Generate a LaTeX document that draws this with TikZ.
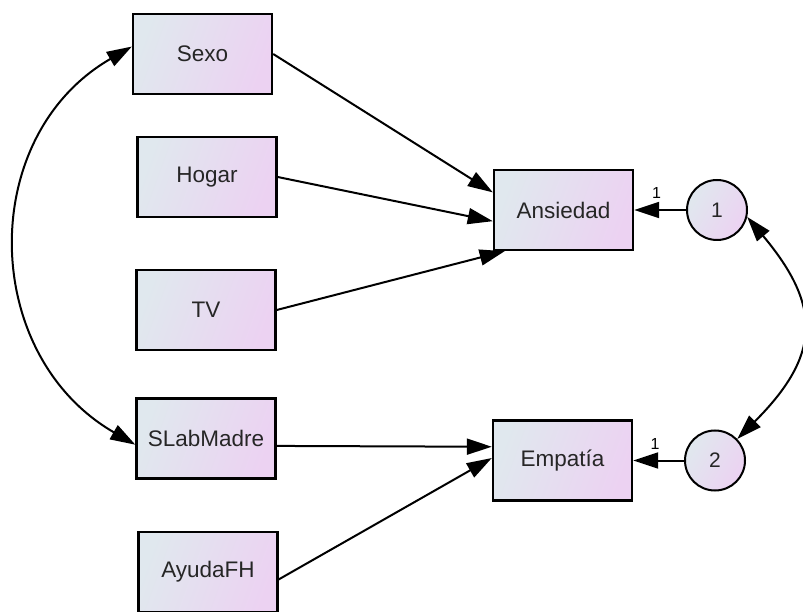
\documentclass[tikz,border=0pt]{standalone}
\usepackage{fontspec}
\setmainfont{Liberation Sans}
\usetikzlibrary{arrows.meta,positioning}
\definecolor{varleft}{RGB}{224,232,238}
\definecolor{varright}{RGB}{236,210,242}
\tikzstyle{every picture}+=[>={Triangle[length=25pt,width=16pt]}]
\tikzstyle{observed}=[rectangle,draw=black,line width=2.4pt,minimum width=139pt,
  minimum height=80pt,inner sep=0pt,left color=varleft,right color=varright,
  shading angle=70,text=black!85,font=\fontsize{22.5}{27}\selectfont]
\tikzstyle{residual}=[circle,draw=black,line width=2pt,minimum size=60pt,inner sep=0pt,
  left color=varleft,right color=varright,shading angle=60,text=black!85,
  font=\fontsize{21}{24}\selectfont]
\tikzstyle{weight}=[above=10pt,inner sep=0pt,text=black,font=\fontsize{16}{16}\selectfont]

\begin{document}
\begin{tikzpicture}[x=1pt,y=1pt,line width=2pt]
\useasboundingbox (0,0) rectangle (803,611);
% exogenous variables
\node[observed] (sexo) at (202.5,557) {Sexo};
\node[observed] (hogar) at (207,434) {Hogar};
\node[observed] (tv) at (206,301) {TV};
\node[observed] (slabmadre) at (206,172.5) {SLabMadre};
\node[observed] (ayudafh) at (208,39) {AyudaFH};
% endogenous variables and their errors
\node[observed] (ansiedad) at (563.5,401) {Ansiedad};
\node[observed] (empatia) at (562.5,150.5) {Empat\'ia};
\node[residual] (e1) at (717,401) {1};
\node[residual] (e2) at (715,150.5) {2};
\path[->] (sexo.east) edge (ansiedad.166)
          (hogar.east) edge (ansiedad.189)
          (tv.east) edge (ansiedad.215)
          (slabmadre.-6) edge (empatia.169)
          (ayudafh.-6.5) edge (empatia.178)
          (e1) edge node[weight,pos=0.57] {1} (ansiedad)
          (e2) edge node[weight,pos=0.57] {1} (empatia);
% covariances
\path[<->] (sexo.174) edge [out=210,in=150,looseness=1.15] (slabmadre.185)
           (e1.-13) edge [out=-50,in=45,looseness=1.35] (e2.44);
\end{tikzpicture}
\end{document}
